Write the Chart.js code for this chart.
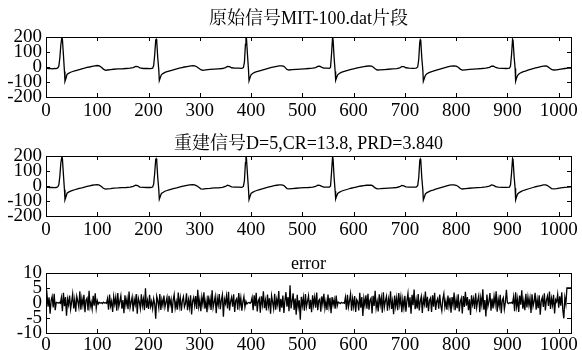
<!DOCTYPE html>
<html><head><meta charset="utf-8">
<script src="https://cdn.jsdelivr.net/npm/chart.js@4.4.1/dist/chart.umd.min.js"></script>
<style>
html,body{margin:0;padding:0;background:#fff;overflow:hidden;width:582px;height:350px;}
canvas{position:absolute;left:0;}
</style></head><body>
<canvas id="c1" width="582" height="120" style="top:0px"></canvas>
<canvas id="c2" width="582" height="120" style="top:119px"></canvas>
<canvas id="c3" width="582" height="120" style="top:236px"></canvas>
<script>
// ---- data (sample index, amplitude) ----
const titles = ["原始信号MIT-100.dat片段", "重建信号D=5,CR=13.8, PRD=3.840", "error"];
const xTicks = [0,100,200,300,400,500,600,700,800,900,1000];
const ecgTicks = [-200,-100,0,100,200];
const errTicks = [-10,-5,0,5,10];

const origSignal = [[0,-8],[4,-10],[8,-9],[12,-12],[16,-10],[20,-11],[23,-6],[25,5],[27,60],[29,150],[31,198],[32,185],[34,80],[36,-30],[37,-95],[39,-75],[41,-50],[44,-42],[48,-35],[52,-30],[56,-26],[60,-22],[65,-17],[70,-12],[75,-8],[80,-3],[85,0],[90,4],[95,8],[100,10],[104,7],[108,-2],[112,-14],[116,-22],[120,-20],[126,-17],[132,-15],[140,-13],[148,-12],[156,-10],[164,-8],[170,-4],[175,4],[179,3],[183,-6],[190,-10],[197,-9],[204,-11],[208,-8],[210,10],[212,80],[214,180],[215,185],[216,170],[218,60],[220,-20],[221,-90],[223,-70],[225,-52],[228,-44],[232,-36],[236,-31],[240,-27],[245,-22],[250,-17],[255,-12],[260,-8],[265,-4],[270,0],[275,3],[280,6],[286,9],[290,8],[294,2],[298,-8],[302,-18],[306,-22],[312,-19],[320,-16],[328,-14],[336,-12],[344,-10],[350,-4],[354,4],[358,2],[362,-5],[368,-8],[376,-8],[382,-9],[385,-4],[387,30],[389,150],[390,200],[391,190],[393,80],[395,-20],[396,-92],[398,-70],[400,-52],[403,-43],[407,-36],[411,-31],[415,-27],[420,-22],[425,-17],[430,-12],[435,-7],[440,-3],[445,1],[450,4],[455,7],[460,8],[464,4],[467,-6],[470,-16],[474,-20],[480,-18],[488,-16],[496,-14],[504,-12],[512,-10],[520,-8],[526,-4],[530,4],[534,5],[538,-2],[542,-7],[548,-8],[553,-9],[555,-2],[557,90],[559,200],[560,180],[562,60],[564,-30],[565,-88],[567,-68],[569,-52],[572,-43],[576,-36],[580,-31],[585,-26],[590,-21],[595,-16],[600,-12],[605,-8],[610,-4],[615,-1],[620,2],[625,5],[630,7],[635,6],[638,0],[642,-12],[646,-20],[652,-19],[660,-17],[668,-15],[676,-13],[684,-11],[690,-6],[694,3],[698,2],[702,-5],[708,-8],[716,-9],[722,-8],[725,0],[727,50],[729,165],[730,182],[731,175],[733,60],[735,-20],[736,-95],[738,-75],[740,-55],[743,-45],[747,-38],[751,-32],[755,-28],[760,-22],[765,-17],[770,-12],[775,-7],[780,-2],[785,3],[790,6],[795,8],[800,6],[804,-2],[808,-14],[812,-21],[818,-19],[826,-16],[834,-14],[842,-12],[850,-10],[858,-7],[865,-2],[869,6],[873,5],[877,-3],[882,-8],[890,-9],[898,-10],[904,-8],[906,5],[908,80],[910,185],[911,178],[913,70],[915,-10],[916,-94],[918,-72],[920,-55],[923,-45],[927,-37],[931,-31],[935,-27],[940,-21],[945,-16],[950,-11],[955,-6],[960,-2],[965,2],[970,6],[975,8],[978,4],[982,-6],[986,-16],[990,-20],[996,-19],[1004,-14],[1012,-10],[1018,-8],[1024,-7]];

const reconSignal = [[0,-9],[4,-9],[8,-10],[12,-10],[16,-11],[20,-10],[23,-5],[25,8],[27,65],[29,155],[31,196],[32,182],[34,75],[36,-25],[37,-92],[39,-72],[41,-48],[44,-41],[48,-34],[52,-29],[56,-25],[60,-21],[65,-16],[70,-12],[75,-7],[80,-3],[85,1],[90,5],[95,8],[100,9],[104,6],[108,-3],[112,-15],[116,-21],[120,-19],[126,-17],[132,-14],[140,-13],[148,-11],[156,-10],[164,-7],[170,-3],[175,5],[179,2],[183,-7],[190,-9],[197,-10],[204,-10],[208,-7],[210,12],[212,85],[214,178],[215,182],[216,165],[218,55],[220,-25],[221,-88],[223,-68],[225,-50],[228,-43],[232,-35],[236,-30],[240,-26],[245,-21],[250,-16],[255,-12],[260,-7],[265,-3],[270,1],[275,4],[280,7],[286,9],[290,7],[294,1],[298,-9],[302,-19],[306,-21],[312,-18],[320,-16],[328,-13],[336,-12],[344,-9],[350,-3],[354,5],[358,1],[362,-6],[368,-8],[376,-7],[382,-9],[385,-3],[387,35],[389,155],[390,198],[391,185],[393,75],[395,-25],[396,-90],[398,-68],[400,-50],[403,-42],[407,-35],[411,-30],[415,-26],[420,-21],[425,-16],[430,-11],[435,-6],[440,-2],[445,2],[450,5],[455,7],[460,7],[464,3],[467,-7],[470,-17],[474,-19],[480,-17],[488,-15],[496,-13],[504,-11],[512,-10],[520,-7],[526,-3],[530,5],[534,4],[538,-3],[542,-7],[548,-8],[553,-8],[555,0],[557,95],[559,198],[560,176],[562,55],[564,-35],[565,-86],[567,-66],[569,-50],[572,-42],[576,-35],[580,-30],[585,-25],[590,-20],[595,-15],[600,-11],[605,-7],[610,-3],[615,0],[620,3],[625,5],[630,6],[635,5],[638,-1],[642,-13],[646,-19],[652,-18],[660,-16],[668,-14],[676,-12],[684,-10],[690,-5],[694,4],[698,1],[702,-6],[708,-8],[716,-8],[722,-7],[725,2],[727,55],[729,168],[730,180],[731,172],[733,55],[735,-25],[736,-93],[738,-73],[740,-53],[743,-44],[747,-37],[751,-31],[755,-27],[760,-21],[765,-16],[770,-11],[775,-6],[780,-1],[785,4],[790,7],[795,8],[800,5],[804,-3],[808,-15],[812,-20],[818,-18],[826,-15],[834,-13],[842,-11],[850,-9],[858,-6],[865,-1],[869,7],[873,4],[877,-4],[882,-8],[890,-9],[898,-9],[904,-7],[906,8],[908,85],[910,183],[911,175],[913,65],[915,-15],[916,-92],[918,-70],[920,-53],[923,-44],[927,-36],[931,-30],[935,-26],[940,-20],[945,-15],[950,-10],[955,-5],[960,-1],[965,3],[970,7],[975,8],[978,3],[982,-7],[986,-17],[990,-19],[996,-18],[1004,-13],[1012,-9],[1018,-8],[1024,-6]];

// error values read every 2nd sample (sample = 2*index)
const errValues = [
0.5,2.8,-1.2,1.9,-3.6,0.8,2.2,-1.5,3.1,-2.4,
0.2,0.1,0,0.2,-0.1,1.8,-2.7,3.4,-1.1,2.0,
-4.2,1.3,-0.6,2.5,-2.0,0.4,3.0,-1.8,1.1,-2.9,
2.2,0.6,-1.4,3.9,-2.2,1.5,-0.8,2.7,-3.1,0.9,
1.6,-2.5,4.1,-1.3,0.3,-2.0,2.4,-0.9,3.2,-1.7,
0.8,-0.3,0.2,0,0.1,-0.2,0.3,0,0.1,-0.1,
1.5,-2.2,2.8,-1.0,0.6,-3.0,2.1,-0.4,1.9,-2.6,
3.3,-1.2,0.5,2.4,-1.9,1.0,-3.4,2.6,-0.7,1.4,
-2.1,3.8,-1.5,0.2,2.0,-2.8,1.2,-0.5,3.0,-3.6,
1.7,0.4,-1.8,2.9,-0.9,1.3,-2.4,4.9,-1.6,0.8,
-2.0,2.7,-1.1,0.5,-1.9,1.4,-0.3,-5.2,2.2,0.7,
-1.6,3.0,-2.3,1.1,-0.8,2.5,-1.4,0.3,1.9,-2.9,
2.4,-0.6,1.2,-3.3,0.9,2.8,-1.7,0.4,-2.2,3.5,
-1.0,1.6,-2.6,0.8,2.1,-1.3,-0.2,3.2,-2.4,1.0,
-1.5,2.6,-3.8,0.6,1.8,-0.9,2.3,-2.0,4.4,-1.2,
1.1,-2.7,2.0,-0.4,3.6,-1.9,0.7,-3.1,2.5,-0.8,
1.4,-2.3,4.2,-1.5,0.3,2.2,-3.4,1.6,-0.6,3.0,
-2.1,0.9,2.7,-4.6,1.3,-0.2,2.4,-1.8,3.7,-2.5,
0.5,1.9,-1.2,2.9,-3.0,0.8,1.5,-2.2,3.3,-0.9,
1.7,-2.6,0.4,2.1,-1.4,0.6,-0.3,0.1,0.2,-0.1,
0.3,1.8,-2.4,2.6,-1.1,3.4,-2.8,0.7,1.5,-3.2,
2.2,-0.5,3.9,-1.7,0.9,-2.5,2.8,-1.0,1.6,-3.6,
2.4,0.3,-1.9,3.1,-2.2,1.2,-0.7,4.0,-2.9,1.4,
-1.6,2.5,-3.3,0.8,3.6,-1.2,2.0,-2.7,5.9,-1.8,
0.6,3.2,-2.3,1.5,-3.9,2.7,-1.4,0.9,-5.6,2.1,
-0.9,1.8,-2.6,3.0,-1.3,0.5,2.4,-2.0,1.1,-3.1,
2.6,-0.7,1.9,-1.6,3.5,-2.4,0.8,1.3,-2.9,2.2,
-0.4,3.1,-1.8,0.6,-2.3,2.8,-1.1,1.7,-3.4,2.0,
-0.6,1.2,-1.9,2.5,-1.0,0.3,0.1,-0.2,0.2,0,
0.1,-0.1,1.9,-2.2,2.7,-1.3,0.7,3.0,-2.6,1.4,
-1.2,2.3,-3.0,1.1,0.4,-2.5,3.4,-1.6,2.0,-4.3,
1.5,-0.8,2.6,-1.9,3.1,-2.2,0.9,1.6,-3.5,2.4,
-1.0,4.1,-1.7,0.5,-2.8,2.9,-0.6,1.8,-3.2,3.6,
-1.4,0.7,2.2,-2.6,1.3,-0.9,3.9,-2.0,0.6,-3.7,
2.5,-1.1,1.7,-2.4,3.3,-0.5,2.0,-3.1,1.2,-1.6,
2.4,-2.9,0.8,3.2,-1.5,1.9,-3.6,2.7,-0.7,4.5,
-2.1,1.0,-1.8,3.0,-2.5,0.6,2.2,-3.3,1.4,-0.4,
3.8,-1.6,2.1,-2.7,0.9,1.7,-3.0,2.6,-1.2,3.4,
-2.3,0.5,1.5,-1.9,2.8,-0.8,-2.6,1.3,3.1,-1.4,
0.7,-2.2,2.5,-1.0,1.8,-3.2,2.0,-0.6,3.5,-2.4,
1.1,-1.7,2.9,-2.8,0.4,1.6,-3.5,2.3,-1.3,3.7,
-0.9,2.0,-2.4,1.2,-4.0,2.6,-0.5,1.4,-2.0,3.2,
-1.5,0.8,2.4,-3.1,1.7,-0.7,4.6,-2.2,1.0,-4.5,
2.8,-1.1,0.6,3.3,-2.6,1.5,-1.8,2.2,-0.4,3.9,
-2.9,1.3,-1.0,2.7,-3.4,0.9,1.8,-2.1,0.2,4.4,
0.1,-0.2,0.1,0,0.2,-0.1,2.1,-2.7,3.6,-1.2,
1.4,-3.0,2.5,-0.6,4.2,-1.9,0.8,-2.4,3.1,-1.5,
2.0,-0.8,1.6,-3.3,2.9,-1.1,0.5,3.4,-2.2,1.2,
-1.7,2.6,-3.9,0.7,1.9,-1.3,3.2,-2.5,0.9,2.3,
-1.0,3.8,-2.0,1.5,-0.7,2.7,-3.5,1.1,0.4,2.9,
-1.6,2.2,-0.9,3.6,-2.3,-5.1,1.8,-0.4,5.0,5.0,5.0,5.0,5.0
];
const errStep = 2;

// ---- rendering ----
const FONT = "'Liberation Serif','Noto Serif CJK SC','Noto Sans CJK SC',serif";
Chart.defaults.font.family = FONT;
Chart.defaults.color = '#000';

const boxTicks = {
  id: 'boxTicks',
  afterDraw(chart) {
    const {ctx, chartArea: a, scales: {x, y}} = chart;
    ctx.save();
    ctx.strokeStyle = '#000';
    ctx.lineWidth = 1;
    ctx.strokeRect(Math.round(a.left) + 0.5, Math.round(a.top) + 0.5, Math.round(a.right - a.left), Math.round(a.bottom - a.top));
    ctx.beginPath();
    x.ticks.forEach(t => {
      const px = Math.round(x.getPixelForValue(t.value)) + 0.5;
      ctx.moveTo(px, a.bottom); ctx.lineTo(px, a.bottom - 4);
      ctx.moveTo(px, a.top); ctx.lineTo(px, a.top + 4);
    });
    y.ticks.forEach(t => {
      const py = Math.round(y.getPixelForValue(t.value)) + 0.5;
      ctx.moveTo(a.left, py); ctx.lineTo(a.left + 4, py);
      ctx.moveTo(a.right, py); ctx.lineTo(a.right - 4, py);
    });
    ctx.stroke();
    ctx.restore();
  }
};

function makeChart(id, title, points, yMin, yMax, yTickVals, titleFont, titlePad, xPad, lw) {
  new Chart(document.getElementById(id), {
    type: 'line',
    data: { datasets: [{ data: points, borderColor: '#000', borderWidth: lw, pointRadius: 0, tension: 0, fill: false }] },
    options: {
      responsive: false, animation: false, devicePixelRatio: 1,
      layout: { padding: { left: 0, right: 11, top: 0, bottom: 0 } },
      plugins: {
        legend: { display: false }, tooltip: { enabled: false },
        title: { display: true, text: title, fullSize: false, color: '#000',
                 font: titleFont, padding: titlePad }
      },
      scales: {
        x: { type: 'linear', min: 0, max: 1024,
             afterBuildTicks: s => { s.ticks = xTicks.map(v => ({value: v})); },
             afterFit: s => { s.height = 23; },
             grid: { display: false, drawTicks: false }, border: { display: false },
             ticks: { includeBounds: false, maxRotation: 0, autoSkip: false, padding: xPad,
                      font: { size: 19, family: FONT }, callback: v => String(v) } },
        y: { type: 'linear', min: yMin, max: yMax,
             afterBuildTicks: s => { s.ticks = yTickVals.map(v => ({value: v})); },
             afterFit: s => { s.width = 46; },
             grid: { display: false, drawTicks: false }, border: { display: false },
             ticks: { includeBounds: false, autoSkip: false, padding: 4,
                      font: { size: 19, family: FONT }, callback: v => String(v) } }
      }
    },
    plugins: [boxTicks]
  });
}

const tf = lh => ({ size: 18, weight: 'normal', family: FONT, lineHeight: lh });
const toXY = arr => arr.map(p => ({x: p[0], y: p[1]}));
makeChart('c1', titles[0], toXY(origSignal), -200, 200, ecgTicks, tf(1.2), {top: 8.7, bottom: 6.7}, 3, 1.3);
makeChart('c2', titles[1], toXY(reconSignal), -200, 200, ecgTicks, tf(1.2), {top: 14.2, bottom: 1.2}, 3, 1.3);
makeChart('c3', titles[2], errValues.map((v, i) => ({x: i * errStep, y: v})), -10, 10, errTicks, tf(1.0), {top: 19, bottom: 0}, 1, 1.3);
</script>
</body></html>
